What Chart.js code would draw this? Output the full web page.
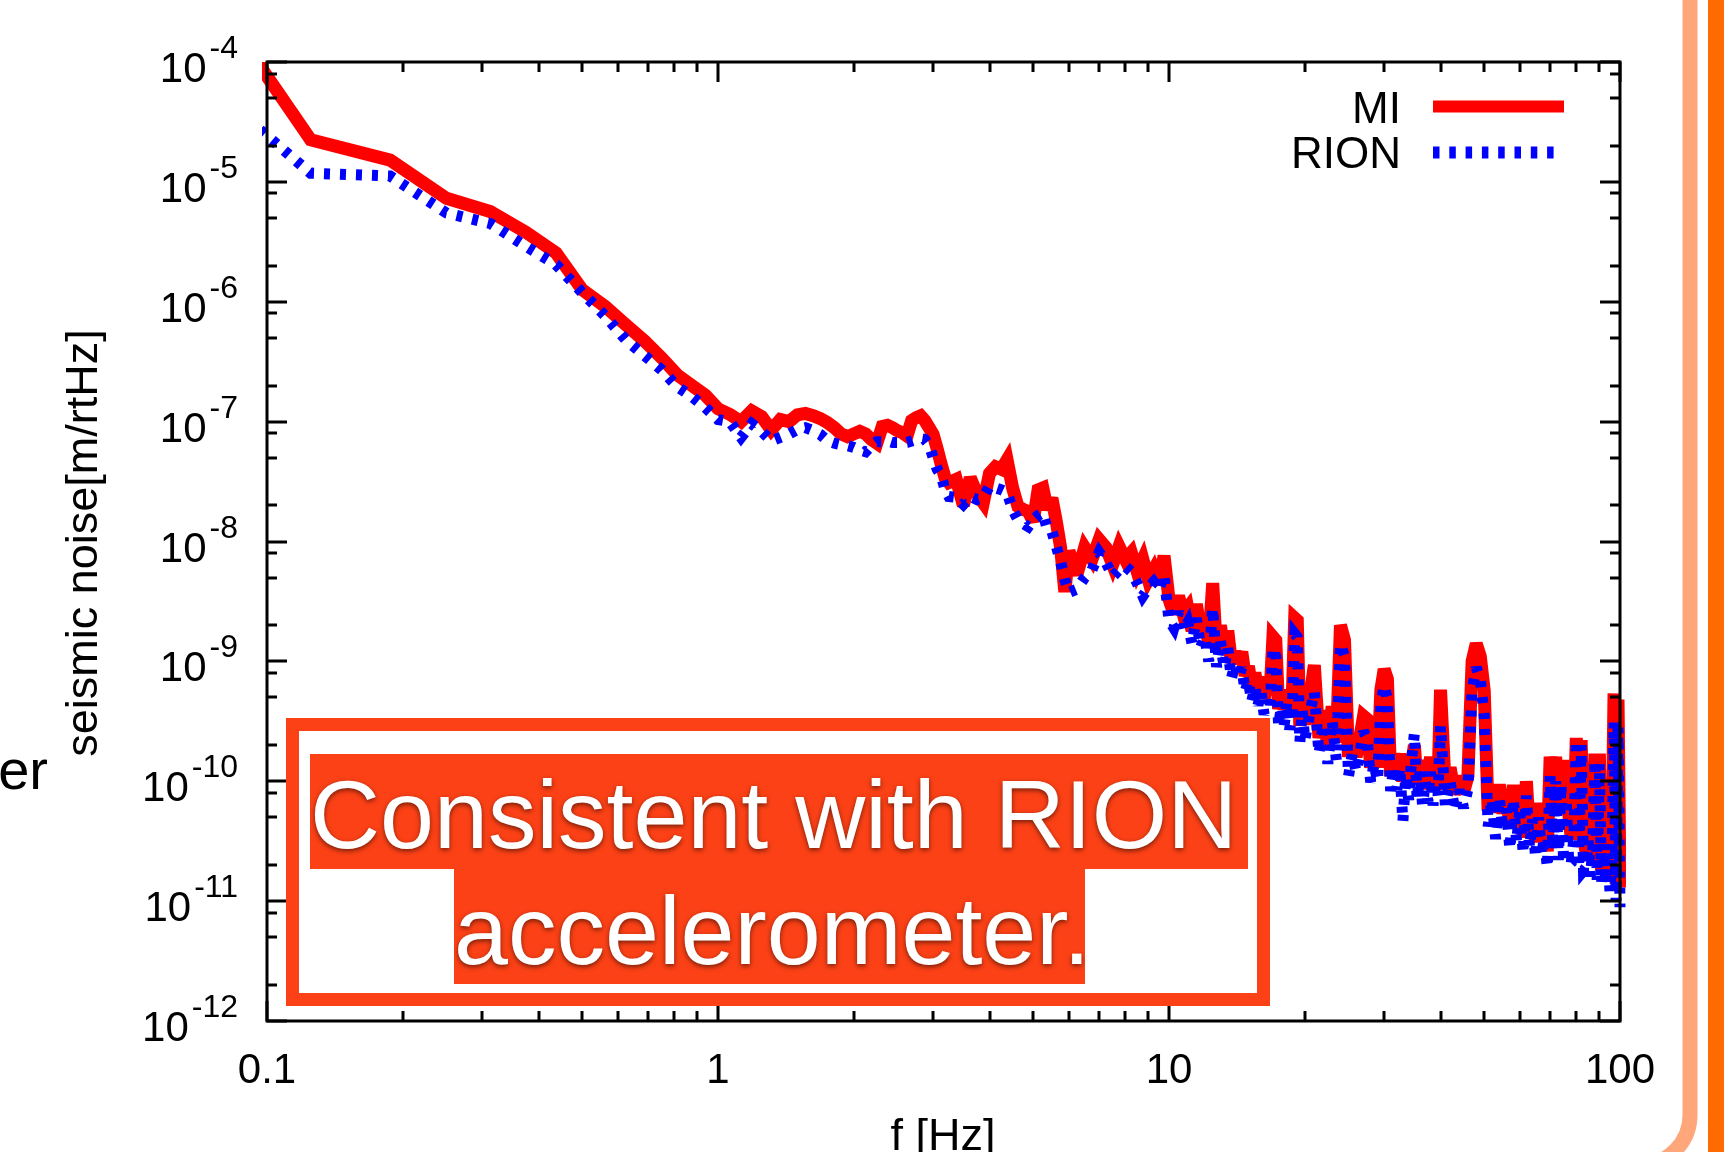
<!DOCTYPE html>
<html>
<head>
<meta charset="utf-8">
<title>seismic noise MI vs RION</title>
<script src="https://cdn.jsdelivr.net/npm/chart.js@4.4.1/dist/chart.umd.min.js"></script>
<style>
  html, body { margin: 0; padding: 0; background: #fff; }
  #wrap { width: 1730px; height: 1152px; }
</style>
</head>
<body>
<div id="wrap"><canvas id="myChart" width="1730" height="1152"></canvas></div>
<script>
// frequency bins [Hz]
const freqHz = [
  0.0625, 0.125, 0.1875, 0.25, 0.3125, 0.375, 0.4375, 0.5, 0.5625, 0.625, 0.6875, 0.75, 0.8125, 0.875, 0.9375, 1.0,
  1.0625, 1.125, 1.1875, 1.25, 1.3125, 1.375, 1.4375, 1.5, 1.5625, 1.625, 1.6875, 1.75, 1.8125, 1.875, 1.9375, 2.0,
  2.0625, 2.125, 2.1875, 2.25, 2.3125, 2.375, 2.4375, 2.5, 2.5625, 2.625, 2.6875, 2.75, 2.8125, 2.875, 2.9375, 3.0,
  3.0625, 3.125, 3.1875, 3.25, 3.375, 3.5, 3.625, 3.75, 3.875, 4.0,
  4.125, 4.25, 4.375, 4.5, 4.625, 4.75, 4.875, 5.0, 5.125, 5.25,
  5.375, 5.5, 5.625, 5.75, 5.875, 6.0, 6.25, 6.5, 6.75, 7.0,
  7.25, 7.5, 7.75, 8.0, 8.25, 8.5, 8.75, 9.0, 9.25, 9.5, 9.75, 10,
  10.25, 10.5, 10.75, 11, 11.25, 11.5, 11.75, 12, 12.25, 12.5,
  12.75, 13, 13.25, 13.5, 13.75, 14, 14.25, 14.5, 14.75, 15,
  15.25, 15.5, 15.75, 16, 16.25, 16.5, 16.75, 17, 17.25, 17.5,
  17.75, 18, 18.25, 18.5, 18.75, 19, 19.25, 19.5, 19.75, 20,
  20.5, 21, 21.5, 22, 22.5, 23, 23.5, 24, 24.5, 25,
  25.5, 26, 26.5, 27, 27.5, 28, 28.5, 29, 29.5, 30,
  30.5, 31, 31.5, 32, 32.5, 33, 33.5, 34, 34.5, 35,
  35.5, 36, 36.5, 37, 37.5, 38, 38.5, 39, 39.5, 40,
  41, 42, 43, 44, 45, 46, 47, 48, 49, 50,
  51, 52, 53, 54, 55, 56, 57, 58, 59, 60,
  61, 62, 63, 64, 65, 66, 67, 68, 69, 70,
  71, 72, 73, 74, 75, 76, 77, 78, 79, 80,
  81, 82, 83, 84, 85, 86, 87, 88, 89, 90,
  91, 92, 93, 94, 95, 96, 97, 98, 99, 100
];

// MI seismic noise [m/rtHz]
const miNoise = [
  1.0e-3, 2.24e-5, 1.52e-5, 7.3e-6, 5.66e-6, 3.8e-6, 2.55e-6, 1.26e-6, 9.1e-7, 6.4e-7, 4.7e-7, 3.4e-7, 2.45e-7, 2.0e-7, 1.66e-7, 1.28e-7,
  1.15e-7, 1.0e-7, 1.23e-7, 1.1e-7, 8.5e-8, 1.04e-7, 1.0e-7, 1.14e-7, 1.17e-7, 1.12e-7, 1.06e-7, 9.8e-8, 8.9e-8, 7.9e-8, 7.5e-8, 7.9e-8,
  8.3e-8, 7.9e-8, 7.1e-8, 6.6e-8, 9.1e-8, 9.3e-8, 8.9e-8, 8.4e-8, 8.1e-8, 7.6e-8, 1.02e-7, 1.08e-7, 1.12e-7, 1.02e-7, 8.9e-8, 7.8e-8,
  5.9e-8, 4.4e-8, 3.4e-8, 3.1e-8, 3.3e-8, 2.0e-8, 3.4e-8, 2.5e-8, 2.1e-8, 3.7e-8,
  4.2e-8, 4.0e-8, 4.8e-8, 2.8e-8, 1.96e-8, 1.85e-8, 1.78e-8, 1.47e-8, 2.7e-8, 2.8e-8,
  1.85e-8, 2.3e-8, 1.47e-8, 8.9e-9, 3.8e-9, 8.3e-9, 5.3e-9, 8.9e-9, 7.1e-9, 1.04e-8,
  8.9e-9, 6.4e-9, 9.1e-9, 7.1e-9, 8.1e-9, 5.6e-9, 7.1e-9, 4.8e-9, 5.8e-9, 4.4e-9, 7.6e-9, 3.3e-9,
  2.5e-9, 3.5e-9, 2.5e-9, 2.8e-9, 1.8e-9, 3.0e-9, 1.8e-9, 2.2e-9, 1.4e-9, 4.5e-9,
  1.2e-9, 2.0e-9, 1.2e-9, 1.8e-9, 9.8e-10, 1.2e-9, 9.7e-10, 1.2e-9, 7.6e-10, 9.1e-10,
  6.2e-10, 8.0e-10, 5.7e-10, 7.4e-10, 4.9e-10, 6.2e-10, 5.3e-10, 1.6e-9, 1.5e-9, 4.0e-10,
  5.5e-10, 4.0e-10, 5.8e-10, 3.6e-10, 4.6e-10, 2.3e-9, 2.2e-9, 2.9e-10, 5.1e-10, 3.0e-10,
  4.8e-10, 9.3e-10, 2.3e-10, 3.9e-10, 1.9e-10, 4.2e-10, 2.1e-10, 2.0e-9, 1.5e-9, 1.6e-10,
  2.3e-10, 1.6e-10, 2.3e-10, 3.5e-10, 3.3e-10, 1.3e-10, 1.9e-10, 1.3e-10, 5.8e-10, 8.6e-10,
  7.1e-10, 1.1e-10, 1.7e-10, 1.1e-10, 1.7e-10, 1.0e-10, 1.5e-10, 9.5e-11, 1.3e-10, 2.0e-10,
  9.5e-11, 1.5e-10, 8.6e-11, 1.4e-10, 9.2e-11, 1.6e-10, 8.5e-11, 1.2e-10, 1.0e-10, 5.8e-10,
  8.5e-11, 1.3e-10, 7.8e-11, 1.1e-10, 8.1e-11, 1.1e-10, 1.0e-9, 1.4e-9, 1.1e-9, 5.7e-10,
  5.7e-11, 9.3e-11, 5.5e-11, 9.4e-11, 5.4e-11, 7.7e-11, 4.2e-11, 9.3e-11, 4.2e-11, 8.1e-11,
  3.4e-11, 1.0e-10, 3.7e-11, 6.4e-11, 3.1e-11, 6.6e-11, 3.2e-11, 4.5e-11, 2.6e-11, 1.6e-10,
  7.1e-11, 1.6e-10, 6.4e-11, 1.5e-10, 5.8e-11, 1.5e-10, 5.3e-11, 3.3e-11, 4.3e-11, 2.3e-10,
  4.0e-11, 2.2e-10, 3.6e-11, 2.6e-11, 4.2e-11, 2.2e-11, 3.6e-11, 1.7e-10, 2.7e-11, 1.7e-10,
  1.8e-11, 3.9e-11, 1.9e-11, 3.4e-11, 1.6e-11, 3.0e-11, 5.4e-10, 1.4e-11, 4.8e-10, 1.3e-11
];

// RION accelerometer noise [m/rtHz]
const rionNoise = [
  1.1e-4, 1.18e-5, 1.12e-5, 5.5e-6, 4.5e-6, 2.9e-6, 2.04e-6, 1.19e-6, 7.6e-7, 4.8e-7, 3.55e-7, 2.7e-7, 1.95e-7, 1.62e-7, 1.31e-7, 1.04e-7,
  1.0e-7, 7.4e-8, 9.6e-8, 8.3e-8, 6.9e-8, 7.4e-8, 7.9e-8, 8.6e-8, 8.9e-8, 8.4e-8, 7.8e-8, 6.9e-8, 6.6e-8, 6.4e-8, 6.3e-8, 6.1e-8,
  5.8e-8, 5.6e-8, 6.3e-8, 6.8e-8, 6.8e-8, 6.9e-8, 6.7e-8, 6.7e-8, 6.6e-8, 6.7e-8, 6.9e-8, 7.1e-8, 7.2e-8, 7.1e-8, 6.4e-8, 5.0e-8,
  4.0e-8, 3.55e-8, 2.7e-8, 2.37e-8, 2.33e-8, 2.04e-8, 2.37e-8, 2.24e-8, 2.33e-8, 2.9e-8,
  2.8e-8, 2.7e-8, 2.57e-8, 1.85e-8, 1.52e-8, 1.41e-8, 1.33e-8, 1.52e-8, 1.65e-8, 1.74e-8,
  1.26e-8, 1.21e-8, 9.1e-9, 6.8e-9, 4.8e-9, 3.76e-9, 4.0e-9, 5.0e-9, 5.8e-9, 8.1e-9,
  6.7e-9, 5.1e-9, 5.8e-9, 6.2e-9, 5.6e-9, 4.5e-9, 3.5e-9, 4.1e-9, 4.6e-9, 4.0e-9, 5.3e-9, 2.2e-9,
  1.9e-9, 2.6e-9, 1.8e-9, 2.1e-9, 1.4e-9, 2.3e-9, 1.3e-9, 1.6e-9, 1.0e-9, 2.8e-9,
  9.0e-10, 1.5e-9, 8.8e-10, 1.3e-9, 7.2e-10, 9.4e-10, 7.3e-10, 8.9e-10, 5.6e-10, 6.9e-10,
  4.6e-10, 6.1e-10, 4.3e-10, 5.6e-10, 3.6e-10, 4.7e-10, 4.0e-10, 1.3e-9, 1.1e-9, 2.9e-10,
  4.2e-10, 2.9e-10, 4.5e-10, 2.7e-10, 3.5e-10, 1.7e-9, 1.6e-9, 2.1e-10, 3.9e-10, 2.2e-10,
  3.6e-10, 5.6e-10, 1.7e-10, 3.0e-10, 1.4e-10, 3.2e-10, 1.5e-10, 1.4e-9, 1.1e-9, 1.1e-10,
  1.7e-10, 1.2e-10, 1.7e-10, 2.6e-10, 2.3e-10, 9.8e-11, 1.4e-10, 1.0e-10, 4.4e-10, 6.3e-10,
  4.8e-10, 8.3e-11, 1.3e-10, 8.5e-11, 1.3e-10, 4.6e-11, 1.1e-10, 7.0e-11, 1.5e-10, 2.5e-10,
  7.0e-11, 1.2e-10, 6.3e-11, 1.0e-10, 6.8e-11, 1.2e-10, 6.3e-11, 9.3e-11, 7.7e-11, 2.9e-10,
  6.3e-11, 1.0e-10, 5.7e-11, 8.5e-11, 6.0e-11, 8.6e-11, 5.8e-10, 8.9e-10, 7.1e-10, 3.5e-10,
  4.2e-11, 7.1e-11, 3.3e-11, 7.2e-11, 4.0e-11, 5.9e-11, 2.7e-11, 7.1e-11, 3.1e-11, 6.1e-11,
  2.5e-11, 7.6e-11, 2.8e-11, 4.8e-11, 2.3e-11, 5.0e-11, 2.4e-11, 3.4e-11, 1.9e-11, 1.1e-10,
  2.7e-11, 1.0e-10, 2.2e-11, 9.4e-11, 2.1e-11, 7.1e-11, 2.0e-11, 2.1e-11, 3.3e-11, 2.2e-10,
  1.9e-11, 2.0e-10, 1.8e-11, 1.9e-11, 3.2e-11, 1.6e-11, 2.7e-11, 1.5e-10, 1.5e-11, 1.4e-10,
  1.4e-11, 3.0e-11, 1.4e-11, 2.6e-11, 1.2e-11, 2.2e-11, 3.1e-10, 1.0e-11, 2.8e-10, 8.9e-12
];

const xTickValues = [0.1, 1, 10, 100];
const xTickLabels = ['0.1', '1', '10', '100'];
const yTickExponents = [-4, -5, -6, -7, -8, -9, -10, -11, -12];
const yMinorMantissas = [2, 5, 8];
const seriesNames = ['MI', 'RION'];

const FONT = '"Liberation Sans", Arial, Helvetica, sans-serif';
const RED = '#ff0000';
const BLUE = '#0000ff';
const SLIDE_ORANGE = '#fc4116';

// axes, tick labels, legend drawn gnuplot-style
const gnuplotFrame = {
  id: 'gnuplotFrame',
  beforeDraw(chart) {
    const ctx = chart.ctx;
    ctx.save();
    ctx.fillStyle = '#fff';
    ctx.fillRect(0, 0, chart.width, chart.height);
    ctx.restore();
  },
  beforeDatasetsDraw(chart) {
    // keep the sharp zigzag joins from growing long miter spikes
    chart.ctx.miterLimit = 3;
  },
  afterDatasetsDraw(chart) {
    const {ctx, chartArea: {left, right, top, bottom}, scales: {x, y}} = chart;
    ctx.miterLimit = 10;
    ctx.save();
    ctx.strokeStyle = '#000';
    ctx.lineWidth = 3;
    ctx.lineCap = 'butt';
    ctx.beginPath();
    const xTick = (v, len) => {
      const px = Math.round(x.getPixelForValue(v));
      ctx.moveTo(px, bottom); ctx.lineTo(px, bottom - len);
      ctx.moveTo(px, top); ctx.lineTo(px, top + len);
    };
    const yTick = (v, len) => {
      const py = Math.round(y.getPixelForValue(v));
      ctx.moveTo(left, py); ctx.lineTo(left + len, py);
      ctx.moveTo(right, py); ctx.lineTo(right - len, py);
    };
    xTickValues.forEach(v => xTick(v, 20));
    xTickValues.slice(0, -1).forEach(d => {
      for (let m = 2; m <= 9; m++) xTick(m * d, 10);
    });
    yTickExponents.forEach(e => yTick(Math.pow(10, e), 20));
    yTickExponents.slice(1).forEach(e => {
      yMinorMantissas.forEach(m => yTick(m * Math.pow(10, e), 10));
    });
    ctx.stroke();
    ctx.strokeRect(left, top, right - left, bottom - top);

    // tick labels
    ctx.fillStyle = '#000';
    ctx.textBaseline = 'alphabetic';
    ctx.font = '42px ' + FONT;
    ctx.textAlign = 'center';
    xTickValues.forEach((v, i) => {
      ctx.fillText(xTickLabels[i], x.getPixelForValue(v), 1083);
    });
    yTickExponents.forEach(e => {
      const py = y.getPixelForValue(Math.pow(10, e));
      const sup = String(e);
      ctx.font = '32px ' + FONT;
      ctx.textAlign = 'right';
      const supW = ctx.measureText(sup).width;
      ctx.fillText(sup, 238, py - 4);
      ctx.font = '42px ' + FONT;
      ctx.fillText('10', 238 - supW - 3, py + 20);
    });

    // axis titles
    ctx.font = '45px ' + FONT;
    ctx.textAlign = 'center';
    ctx.fillText('f [Hz]', 943, 1150);
    ctx.save();
    ctx.translate(97, 543);
    ctx.rotate(-Math.PI / 2);
    ctx.fillText('seismic noise[m/rtHz]', 0, 0);
    ctx.restore();

    // legend
    ctx.font = '44px ' + FONT;
    ctx.textAlign = 'right';
    ctx.fillText(seriesNames[0], 1401, 123);
    ctx.fillText(seriesNames[1], 1401, 168);
    ctx.lineWidth = 12;
    ctx.strokeStyle = RED;
    ctx.beginPath();
    ctx.moveTo(1433, 106.5); ctx.lineTo(1564, 106.5);
    ctx.stroke();
    ctx.strokeStyle = BLUE;
    ctx.setLineDash([6.5, 9.8]);
    ctx.beginPath();
    ctx.moveTo(1433, 152.5); ctx.lineTo(1556, 152.5);
    ctx.stroke();
    ctx.restore();
  },
  afterDraw(chart) {
    const ctx = chart.ctx;
    ctx.save();
    // slide decoration on the right
    ctx.strokeStyle = '#ffa67a';
    ctx.lineWidth = 15;
    ctx.beginPath();
    ctx.moveTo(1690, -10);
    ctx.lineTo(1690, 1115);
    ctx.arc(1640, 1115, 50, 0, Math.PI / 2);
    ctx.stroke();
    ctx.fillStyle = '#ff6b00';
    ctx.fillRect(1708, 0, 16, 1152);

    // clipped slide text at far left
    ctx.fillStyle = '#000';
    ctx.font = '56px ' + FONT;
    ctx.textAlign = 'right';
    ctx.fillText('er', 48, 789);

    // annotation box
    ctx.fillStyle = SLIDE_ORANGE;
    ctx.fillRect(286, 718, 984, 288);
    ctx.fillStyle = '#fff';
    ctx.fillRect(299, 731, 958, 262);
    ctx.fillStyle = SLIDE_ORANGE;
    ctx.fillRect(310, 754, 938, 115);
    ctx.fillRect(454, 868, 631, 116);
    ctx.fillStyle = '#fff';
    ctx.font = '97px ' + FONT;
    ctx.textAlign = 'left';
    ctx.shadowColor = 'rgba(0,0,0,0.55)';
    ctx.shadowBlur = 5;
    ctx.shadowOffsetY = 2;
    ctx.fillText('Consistent with RION', 310, 848);
    ctx.fillText('accelerometer.', 454, 964);
    ctx.restore();
  }
};

const ctx = document.getElementById('myChart').getContext('2d');
const toPoints = vals => freqHz.map((f, i) => ({x: f, y: vals[i]}));

const myChart = new Chart(ctx, {
  type: 'line',
  data: {
    datasets: [{
      label: seriesNames[0],
      data: toPoints(miNoise),
      borderColor: RED,
      borderWidth: 13,
      pointRadius: 0,
      tension: 0,
      order: 2,
      clip: {left: 5, right: 6, top: 0, bottom: 0}
    }, {
      label: seriesNames[1],
      data: toPoints(rionNoise),
      borderColor: BLUE,
      borderWidth: 11,
      borderDash: [6, 10],
      pointRadius: 0,
      tension: 0,
      order: 1,
      clip: {left: 5, right: 6, top: 0, bottom: 0}
    }]
  },
  plugins: [gnuplotFrame],
  options: {
    responsive: false,
    devicePixelRatio: 1,
    animation: false,
    layout: {padding: {left: 267, right: 110, top: 62, bottom: 131}},
    plugins: {
      legend: {display: false},
      tooltip: {enabled: false}
    },
    scales: {
      x: {type: 'logarithmic', min: 0.1, max: 100, display: false},
      y: {type: 'logarithmic', min: 1e-12, max: 1e-4, display: false}
    }
  }
});
</script>
</body>
</html>
